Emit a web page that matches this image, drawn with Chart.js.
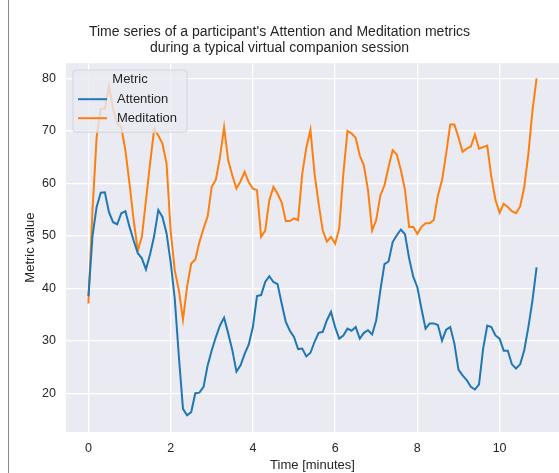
<!DOCTYPE html>
<html>
<head>
<meta charset="utf-8">
<script src="https://cdn.jsdelivr.net/npm/chart.js@4"></script>
<style>
  body { margin: 0; background: #fff; }
  #wrap { position: relative; width: 559px; height: 473px; }
  #edge { position: absolute; left: 8px; top: 0; width: 1px; height: 473px; background: #8a8a8a; }
</style>
</head>
<body>
<div id="wrap">
  <canvas id="cchart" width="559" height="473"></canvas>
  <div id="edge"></div>
</div>
<script>
// time in minutes
const tempo = [0.0,0.1,0.2,0.3,0.4,0.5,0.6,0.7,0.8,0.9,1.0,1.1,1.2,1.3,1.4,1.5,1.6,1.7,1.8,1.9,
  2.0,2.1,2.2,2.3,2.4,2.5,2.6,2.7,2.8,2.9,3.0,3.1,3.2,3.3,3.4,3.5,3.6,3.7,3.8,3.9,
  4.0,4.1,4.2,4.3,4.4,4.5,4.6,4.7,4.8,4.9,5.0,5.1,5.2,5.3,5.4,5.5,5.6,5.7,5.8,5.9,
  6.0,6.1,6.2,6.3,6.4,6.5,6.6,6.7,6.8,6.9,7.0,7.1,7.2,7.3,7.4,7.5,7.6,7.7,7.8,7.9,
  8.0,8.1,8.2,8.3,8.4,8.5,8.6,8.7,8.8,8.9,9.0,9.1,9.2,9.3,9.4,9.5,9.6,9.7,9.8,9.9,
  10.0,10.1,10.2,10.3,10.4,10.5,10.6,10.7,10.8,10.9];

const attention = [38.5,50,55.5,58.2,58.3,54.5,52.6,52.2,54.3,54.7,51.7,49.1,46.7,45.7,43.6,46.5,50,54.9,53.6,50.5,
  45,38,27,17,15.8,16.4,20,20.1,21.2,25.3,28.2,30.7,32.9,34.4,31.4,28.2,24.1,25.3,27.5,29.3,
  32.6,38.5,38.7,41.2,42.3,41.2,40.8,37.1,33.6,31.9,30.7,28.4,28.5,27,27.7,29.8,31.5,31.7,33.9,35.5,
  32.6,30.4,31,32.3,31.9,32.6,30.4,31.5,32,31.2,33.9,39.6,44.6,45.1,48.8,50.1,51.2,50.3,45.7,42.2,
  40.2,36.1,32.3,33.3,33.3,33,30,32.1,32.6,29.5,24.5,23.4,22.5,21.2,20.7,21.7,28.5,32.9,32.6,31,
  30.4,28.1,28.1,25.5,24.7,25.5,28.2,32.6,37.7,44];

const meditation = [37.1,54.9,68.8,74.2,74.2,78.5,74.2,71.4,70.7,66.3,59.9,53,47.2,49.8,56.8,63.8,70.4,69.1,67.6,63.8,
  51,43.4,39.6,34,40.3,44.7,45.5,48.8,51.4,53.7,59.4,60.7,65,70.7,64.4,61.5,59,60.4,62.2,60.2,
  59,58.7,49.8,51,56.8,59.3,58,56.4,52.8,52.8,53.3,53,61.8,66.8,70.2,61.8,56.1,51,48.9,49.8,
  48.5,51.4,61.8,70,69.5,68.7,65.3,63.4,58.7,51,53,57.7,59.6,63.1,66.3,65.5,62.5,58.7,51.7,51.7,
  50.4,51.7,52.4,52.4,53,57.7,60.6,65.6,71.2,71.2,68.8,66,66.6,67,69.3,66.6,66.9,67.2,61.2,56.8,
  54.4,56.1,55.5,54.7,54.3,55.6,59.3,65.6,73.9,80];

const xTicks = [0, 2, 4, 6, 8, 10];
const yTicks = [20, 30, 40, 50, 60, 70, 80];
const series = ['Attention', 'Meditation'];
const cores = ['#1f77b4', '#ff7f0e'];

const fonte = "'Liberation Sans', Arial, sans-serif";
const tinta = '#262626';

function pares(vals) {
  return tempo.map(function (t, i) { return { x: t, y: vals[i] }; });
}

// seaborn darkgrid background
const fundo = {
  id: 'fundo',
  beforeDraw(chart) {
    const a = chart.chartArea, c = chart.ctx;
    c.save();
    c.fillStyle = '#eaeaf2';
    c.fillRect(a.left, a.top, a.right - a.left, a.bottom - a.top);
    c.restore();
  }
};

// legend inside the axes, upper left
const legenda = {
  id: 'legenda',
  afterDraw(chart) {
    const c = chart.ctx;
    const a = chart.chartArea;
    const x0 = a.left + 7, y0 = a.top + 7, w = 114, h = 62;
    c.save();
    c.beginPath();
    c.roundRect(x0, y0, w, h, 3);
    c.fillStyle = 'rgba(234,234,242,0.8)';
    c.fill();
    c.strokeStyle = '#d5d5dc';
    c.lineWidth = 1;
    c.stroke();
    c.font = '13px ' + fonte;
    c.fillStyle = tinta;
    c.textBaseline = 'middle';
    c.textAlign = 'center';
    c.fillText('Metric', x0 + 57, y0 + 9);
    c.textAlign = 'left';
    series.forEach(function (s, i) {
      const yy = y0 + 29 + i * 19;
      c.beginPath();
      c.moveTo(x0 + 5, yy);
      c.lineTo(x0 + 34, yy);
      c.strokeStyle = cores[i];
      c.lineWidth = 2;
      c.stroke();
      c.fillText(s, x0 + 44, yy);
    });
    c.restore();
  }
};

const config = {
  type: 'line',
  data: {
    datasets: [
      { label: series[0], data: pares(attention), borderColor: cores[0], backgroundColor: cores[0], borderWidth: 2, pointRadius: 0, tension: 0 },
      { label: series[1], data: pares(meditation), borderColor: cores[1], backgroundColor: cores[1], borderWidth: 2, pointRadius: 0, tension: 0 }
    ]
  },
  options: {
    responsive: false,
    animation: false,
    layout: { padding: 0 },
    plugins: {
      legend: { display: false },
      tooltip: { enabled: false },
      title: {
        display: true,
        text: ["Time series of a participant's Attention and Meditation metrics", 'during a typical virtual companion session'],
        color: tinta,
        font: { family: fonte, size: 14, weight: 'normal', lineHeight: 1.15 },
        padding: { top: 24, bottom: 7 }
      }
    },
    scales: {
      x: {
        type: 'linear',
        min: -0.545,
        max: 11.445,
        afterBuildTicks: function (s) { s.ticks = xTicks.map(function (v) { return { value: v }; }); },
        afterFit: function (s) { s.height = 41; },
        grid: { color: '#ffffff', lineWidth: 1.3, drawTicks: false },
        border: { display: false },
        ticks: { color: tinta, font: { family: fonte, size: 12.5 }, padding: 9, maxRotation: 0 },
        title: { display: true, text: 'Time [minutes]', color: tinta, font: { family: fonte, size: 13 }, padding: { top: 0, bottom: 0 } }
      },
      y: {
        min: 12.6,
        max: 82.9,
        afterBuildTicks: function (s) { s.ticks = yTicks.map(function (v) { return { value: v }; }); },
        afterFit: function (s) { s.width = 66; },
        grid: { color: '#ffffff', lineWidth: 1.3, drawTicks: false },
        border: { display: false },
        ticks: { color: tinta, font: { family: fonte, size: 12.5 }, padding: 10 },
        title: { display: true, text: 'Metric value', color: tinta, font: { family: fonte, size: 13 }, padding: { top: 23, bottom: 0 } }
      }
    }
  },
  plugins: [fundo, legenda]
};

const chart = new Chart(document.getElementById('cchart').getContext('2d'), config);
</script>
</body>
</html>
